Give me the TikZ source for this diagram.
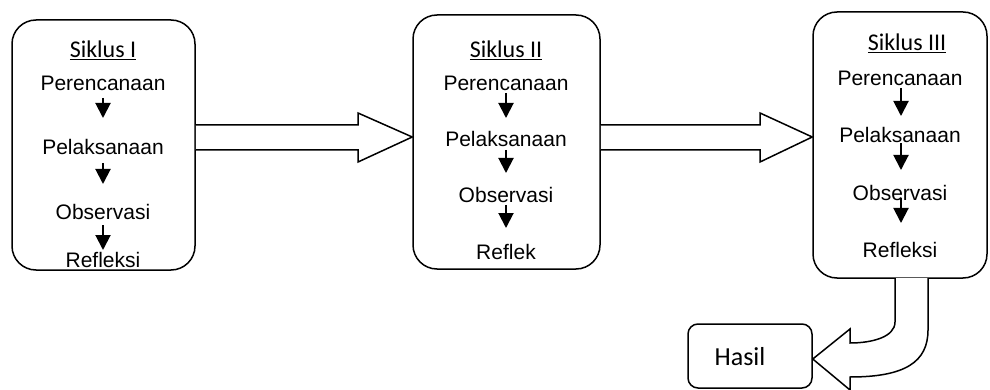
\documentclass[tikz,border=0pt]{standalone}
\usepackage{fontspec}
\setmainfont{Liberation Sans}
\newfontfamily\calfont{Carlito}
\usetikzlibrary{arrows.meta,calc}
\begin{document}
\begin{tikzpicture}[x=1pt,y=-1pt,
  cyclebox/.style={draw,line width=1.5pt,rounded corners=24pt,inner sep=0pt},
  steptext/.style={inner sep=0pt,font=\fontsize{21}{25}\selectfont},
  titletext/.style={inner sep=0pt,font=\calfont\fontsize{24}{28}\selectfont},
  sarrow/.style={line width=2pt,-{Triangle[length=15pt,width=15pt]}},
  barrow/.style={draw,line width=1.5pt,fill=white,line join=miter}]
\useasboundingbox (0,0) rectangle (990,390);
% boxes
\node[cyclebox,minimum width=183pt,minimum height=250pt] (b1) at (103.5,145) {};
\node[cyclebox,minimum width=187pt,minimum height=254pt] (b2) at (506.5,142) {};
\node[cyclebox,minimum width=174pt,minimum height=266pt] (b3) at (900,145) {};
\node[draw,line width=1.5pt,rounded corners=10pt,minimum width=124pt,minimum height=64pt] (h) at (750,356) {};
\node[inner sep=0pt,font=\calfont\fontsize{26}{30}\selectfont] (ht) at (740,357) {Hasil};
% box 1
\node[titletext] (t1) at (103,50) {\underline{Siklus I}};
\node[steptext] (a1) at (103,83) {Perencanaan};
\node[steptext] (a2) at (103,147) {Pelaksanaan};
\node[steptext] (a3) at (103,212) {Observasi};
\node[steptext] (a4) at (103,260) {Refleksi};
\draw[sarrow] ($(a1)+(0,15)$) -- ($(a2)+(0,-29)$);
\draw[sarrow] ($(a2)+(0,16)$) -- ($(a3)+(0,-28)$);
\draw[sarrow] ($(a3)+(0,13)$) -- ($(a4)+(0,-10)$);
% box 2
\node[titletext] (t2) at (506,50) {\underline{Siklus II}};
\node[steptext] (c1) at (506,83) {Perencanaan};
\node[steptext] (c2) at (506,139) {Pelaksanaan};
\node[steptext] (c3) at (506,195) {Observasi};
\node[steptext] (c4) at (506,252) {Reflek};
\draw[sarrow] ($(c1)+(0,10)$) -- ($(c2)+(0,-21)$);
\draw[sarrow] ($(c2)+(0,11)$) -- ($(c3)+(0,-22)$);
\draw[sarrow] ($(c3)+(0,10)$) -- ($(c4)+(0,-24)$);
% box 3
\node[titletext] (t3) at (907,43) {\underline{Siklus III}};
\node[steptext] (d1) at (900,78) {Perencanaan};
\node[steptext] (d2) at (900,135) {Pelaksanaan};
\node[steptext] (d3) at (900,193) {Observasi};
\node[steptext] (d4) at (900,250) {Refleksi};
\draw[sarrow] ($(d1)+(1,10)$) -- ($(d2)+(1,-19)$);
\draw[sarrow] ($(d2)+(1,8)$) -- ($(d3)+(1,-23)$);
\draw[sarrow] ($(d3)+(1,5)$) -- ($(d4)+(1,-27)$);
% block arrows
\draw[barrow] (b1.east |- 0,125) -- (358,125) -- (358,113) -- (b2.west |- 0,137) -- (358,162) -- (358,150) -- (b1.east |- 0,150);
\draw[barrow] (b2.east |- 0,125) -- (760,125) -- (760,113) -- (b3.west |- 0,137) -- (760,162) -- (760,150) -- (b2.east |- 0,150);
% U-turn arrow to Hasil
\draw[barrow] (895,278) -- (895,322) .. controls (895,337) and (872,343) .. (850,343)
  -- (850,329) -- (h.east |- 0,359) -- (850,390) -- (850,377)
  .. controls (905,377) and (928,362) .. (928,330) -- (928,278);
\end{tikzpicture}
\end{document}
